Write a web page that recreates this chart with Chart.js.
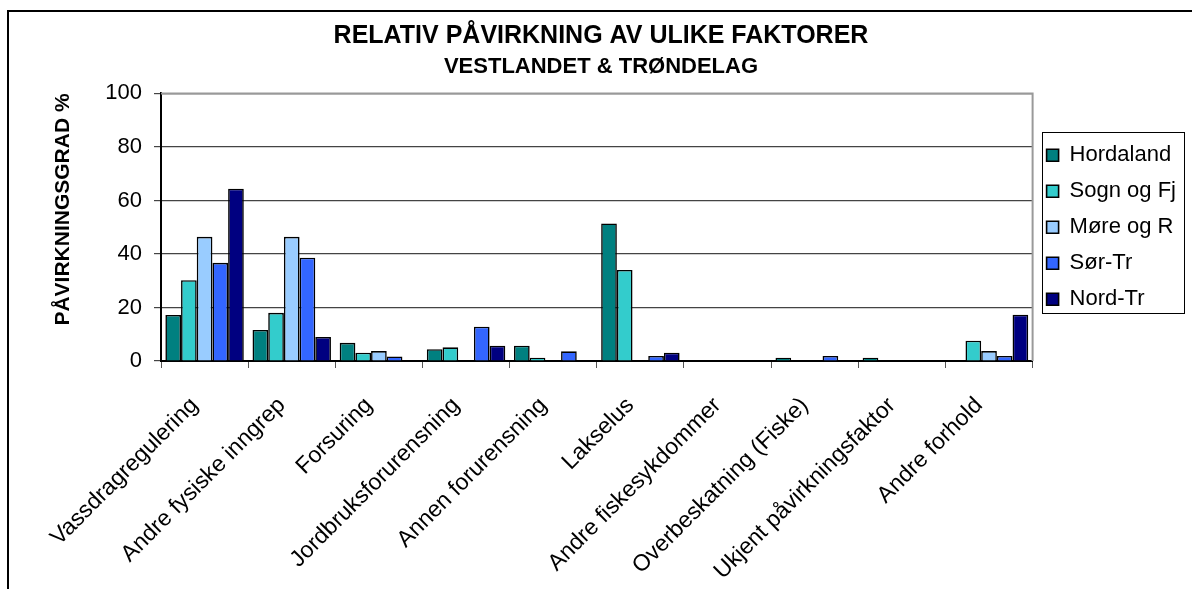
<!DOCTYPE html>
<html>
<head>
<meta charset="utf-8">
<script src="https://cdn.jsdelivr.net/npm/chart.js@4.4.0/dist/chart.umd.min.js"></script>
<style>
  html, body { margin: 0; padding: 0; background: #fff; }
  #wrap { width: 1192px; height: 589px; }
</style>
</head>
<body>
<div id="wrap"><canvas id="myChart" width="1192" height="589"></canvas></div>
<script>
const categories = [
  'Vassdragregulering', 'Andre fysiske inngrep', 'Forsuring', 'Jordbruksforurensning',
  'Annen forurensning', 'Lakselus', 'Andre fiskesykdommer', 'Overbeskatning (Fiske)',
  'Ukjent påvirkningsfaktor', 'Andre forhold'
];

const hordaland = [17.2, 11.6, 6.8, 4.4, 5.7, 51.4, 0, 1.2, 1.2, 0];
const sognOgFj  = [30.2, 18.0, 3.1, 5.1, 1.2, 34.0, 0, 0, 0, 7.6];
const moreOgR   = [46.4, 46.4, 3.7, 0, 0, 0, 0, 0, 0, 3.7];
const sorTr     = [36.7, 38.6, 1.7, 12.8, 3.6, 1.9, 0, 1.9, 0, 1.9];
const nordTr    = [64.4, 9.0, 0, 5.7, 0, 3.1, 0, 0, 0, 17.3];

const yTicks = [0, 20, 40, 60, 80, 100];

const font = 'Liberation Sans, Arial, sans-serif';

// frame round the whole chart + grey top/right of the plot area + box round the legend
const frames = {
  id: 'frames',
  beforeDatasetsDraw(chart) {
    const { ctx, chartArea: a } = chart;
    ctx.save();
    ctx.strokeStyle = '#999';
    ctx.lineWidth = 2;
    ctx.beginPath();
    ctx.moveTo(a.left, a.top);
    ctx.lineTo(a.right, a.top);
    ctx.lineTo(a.right, a.bottom);
    ctx.stroke();
    ctx.restore();
  },
  afterDraw(chart) {
    const ctx = chart.ctx;
    ctx.save();
    ctx.strokeStyle = '#000';
    ctx.lineWidth = 2;
    ctx.strokeRect(8, 11, 1300, 700);
    const boxes = chart.legend.legendHitBoxes;
    if (boxes.length) {
      const first = boxes[0];
      ctx.lineWidth = 1;
      ctx.strokeRect(Math.round(chart.chartArea.right) + 9.5, Math.round(first.top) - 11.5, 142, 181);
    }
    ctx.restore();
  }
};

const ctx = document.getElementById('myChart').getContext('2d');

const chart = new Chart(ctx, {
  type: 'bar',
  data: {
    labels: categories,
    datasets: [
      { label: 'Hordaland', data: hordaland, backgroundColor: '#008080' },
      { label: 'Sogn og Fj', data: sognOgFj, backgroundColor: '#33CCCC' },
      { label: 'Møre og R', data: moreOgR, backgroundColor: '#99CCFF' },
      { label: 'Sør-Tr', data: sorTr, backgroundColor: '#3366FF' },
      { label: 'Nord-Tr', data: nordTr, backgroundColor: '#000080' }
    ].map(d => Object.assign(d, {
      borderColor: '#000',
      borderWidth: 1.6,
      barPercentage: 1,
      categoryPercentage: 0.9
    }))
  },
  options: {
    responsive: false,
    animation: false,
    layout: { padding: { left: 16, right: 6, top: 11, bottom: 0 } },
    plugins: {
      title: {
        display: true,
        text: 'RELATIV PÅVIRKNING AV ULIKE FAKTORER',
        color: '#000',
        font: { family: font, size: 25, weight: 'bold' },
        padding: { top: 10, bottom: 3 }
      },
      subtitle: {
        display: true,
        text: 'VESTLANDET & TRØNDELAG',
        color: '#000',
        font: { family: font, size: 22, weight: 'bold' },
        padding: { top: 0, bottom: 13 }
      },
      legend: {
        position: 'right',
        fullSize: false,
        labels: {
          color: '#000',
          font: { family: font, size: 22 },
          boxWidth: 12,
          boxHeight: 12,
          padding: 14,
          useBorderRadius: false
        }
      },
      tooltip: { enabled: false }
    },
    scales: {
      x: {
        grid: { drawOnChartArea: false, drawTicks: true, tickLength: 7, color: '#555' },
        border: { color: '#000', width: 2 },
        ticks: {
          color: '#000',
          font: { family: font, size: 23 },
          maxRotation: 45,
          minRotation: 45,
          padding: 24,
          labelOffset: -10,
          autoSkip: false
        },
        afterFit(scale) { scale.height = 228; }
      },
      y: {
        min: 0,
        max: 100,
        afterBuildTicks(scale) { scale.ticks = yTicks.map(v => ({ value: v })); },
        grid: { color: '#444', lineWidth: 1.2, tickLength: 7 },
        border: { color: '#000', width: 2 },
        ticks: {
          color: '#000',
          font: { family: font, size: 22 },
          padding: 12
        },
        title: {
          display: true,
          text: 'PÅVIRKNINGSGRAD %',
          align: 'end',
          color: '#000',
          font: { family: font, size: 21, weight: 'bold' },
          padding: { top: 35, bottom: 0 }
        },
        afterFit(scale) { scale.width = 145; }
      }
    }
  },
  plugins: [frames]
});
</script>
</body>
</html>
